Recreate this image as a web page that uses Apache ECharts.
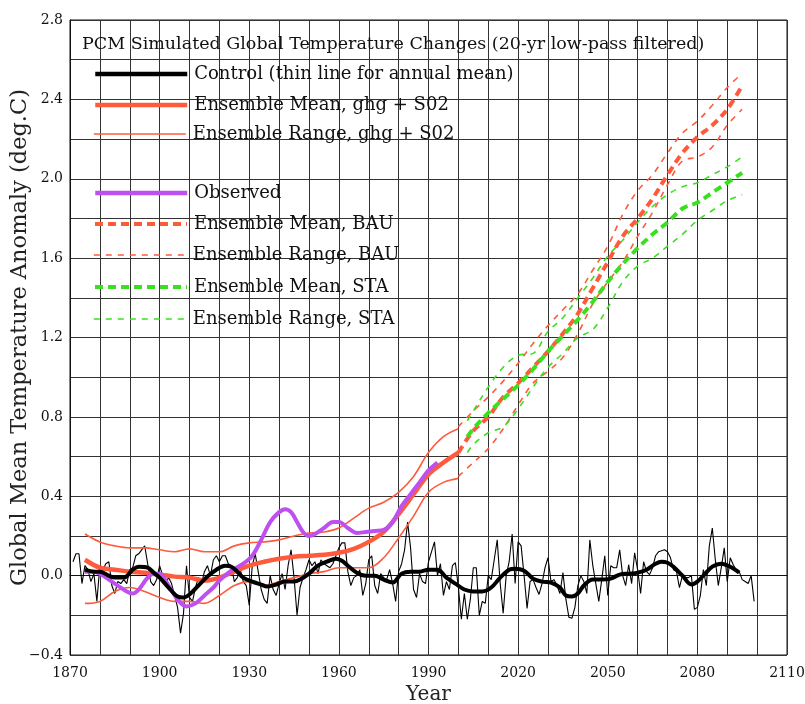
<!DOCTYPE html>
<html>
<head>
<meta charset="utf-8">
<script src="https://cdn.jsdelivr.net/npm/echarts@6/dist/echarts.min.js"></script>
<style>html,body{margin:0;padding:0;background:#fff}#c{width:805px;height:704px}</style>
</head>
<body>
<div id="c"></div>
<script>
// ---------- DATA ----------
const xTickLabels = [1870, 1900, 1930, 1960, 1990, 2020, 2050, 2080, 2110];
const yTickLabels = [-0.4, 0.0, 0.4, 0.8, 1.2, 1.6, 2.0, 2.4, 2.8];

// Control run, annual means (thin line), 1871..2099
const controlAnnualStart = 1871;
const controlAnnual = [
  0.07, 0.11, 0.11, -0.04, 0.05, 0.03, -0.03, 0.01, -0.13, 0.05,
  0.03, 0.06, 0.07, -0.05, -0.09, -0.03, -0.04, -0.02, -0.04, 0.03,
  0.04, 0.10, 0.11, 0.13, 0.15, 0.06, -0.03, -0.05, -0.02, 0.05,
  0.00, -0.04, -0.01, -0.04, -0.10, -0.16, -0.29, -0.19, 0.05, -0.11,
  -0.13, -0.06, -0.01, -0.04, 0.02, 0.05, 0.00, 0.08, 0.10, 0.07,
  0.10, 0.10, 0.06, 0.05, -0.03, -0.01, 0.03, -0.03, -0.05, -0.15,
  0.05, 0.11, 0.02, -0.07, -0.12, -0.14, 0.00, -0.07, -0.10, -0.04,
  0.01, -0.07, 0.05, 0.13, -0.01, -0.20, -0.06, -0.01, 0.03, 0.08,
  0.05, 0.07, 0.01, 0.08, 0.06, 0.05, 0.04, 0.06, 0.10, 0.14,
  0.165, 0.165, 0.02, -0.05, -0.01, 0.00, 0.03, -0.10, -0.04, 0.08,
  0.10, -0.05, -0.09, 0.01, -0.01, -0.02, 0.03, -0.04, -0.13, 0.02,
  0.06, 0.13, 0.27, 0.14, -0.07, -0.11, 0.01, -0.03, -0.04, 0.07,
  0.12, 0.17, 0.00, 0.06, -0.10, -0.03, -0.07, 0.05, 0.065, -0.06,
  -0.22, -0.09, -0.22, -0.12, 0.04, 0.04, -0.20, -0.13, -0.14, 0.00,
  -0.02, 0.08, 0.18, -0.04, -0.19, 0.00, 0.07, 0.21, -0.04, 0.17,
  0.15, 0.00, -0.165, -0.03, -0.02, -0.06, -0.095, -0.04, 0.04, 0.09,
  -0.03, -0.02, -0.05, -0.09, 0.015, -0.12, -0.21, -0.215, -0.16, -0.05,
  0.00, -0.03, -0.09, 0.18, 0.05, -0.04, -0.13, -0.02, 0.10, -0.10,
  0.05, 0.04, 0.04, 0.13, 0.00, -0.05, 0.055, -0.04, 0.115, 0.03,
  -0.09, 0.07, 0.02, 0.005, 0.04, 0.10, 0.12, 0.125, 0.13, 0.12,
  0.09, 0.03, 0.02, -0.06, 0.00, -0.01, -0.01, 0.00, -0.17, -0.16,
  -0.10, 0.03, -0.05, 0.15, 0.24, 0.08, -0.05, 0.04, 0.14, -0.03,
  0.09, 0.055, 0.03, 0.02, -0.02, -0.03, -0.04, 0.00, -0.13
];

// Control run, 20-yr low-pass filtered (thick line)
const controlYears = [1875,1878,1880,1883,1885,1888,1891,1893,1896,1898,1900,1903,1906,1908,1910,1913,1916,1919,1922,1924,1926,1928,1931,1934,1936,1939,1942,1945,1947,1950,1953,1956,1959,1961,1963,1966,1969,1972,1975,1978,1981,1984,1987,1990,1993,1996,1999,2002,2005,2008,2011,2014,2017,2019,2022,2025,2028,2031,2034,2036,2038,2040,2042,2045,2048,2051,2054,2057,2060,2063,2066,2068,2070,2072,2075,2078,2080,2082,2085,2088,2091,2094];
const controlSmooth = [0.03,0.02,0.02,0.00,-0.01,-0.01,0.03,0.045,0.04,0.015,-0.01,-0.06,-0.105,-0.11,-0.095,-0.05,-0.005,0.03,0.05,0.045,0.02,-0.01,-0.03,-0.045,-0.055,-0.045,-0.03,-0.03,-0.02,0.01,0.05,0.07,0.085,0.075,0.05,0.015,0.00,0.00,-0.02,-0.035,0.01,0.02,0.02,0.03,0.03,-0.01,-0.04,-0.07,-0.08,-0.08,-0.06,-0.01,0.03,0.035,0.025,-0.015,-0.03,-0.035,-0.06,-0.10,-0.105,-0.09,-0.05,-0.02,-0.02,-0.015,0.005,0.01,0.015,0.03,0.06,0.07,0.065,0.045,0.00,-0.045,-0.03,0.00,0.045,0.06,0.045,0.015];

// Ensemble, ghg + SO2 (historical)
const ghgYears = [1875,1880,1885,1890,1895,1900,1905,1910,1915,1920,1925,1930,1935,1940,1945,1950,1955,1960,1965,1970,1975,1980,1985,1990,1995,2000];
const ghgMean  = [0.08,0.04,0.03,0.02,0.015,0.005,-0.005,-0.01,-0.025,-0.01,0.02,0.05,0.07,0.085,0.095,0.10,0.105,0.115,0.135,0.17,0.22,0.31,0.41,0.51,0.57,0.62];
const ghgUpper = [0.21,0.17,0.15,0.14,0.14,0.13,0.12,0.135,0.12,0.12,0.15,0.165,0.17,0.18,0.20,0.215,0.22,0.24,0.29,0.34,0.37,0.42,0.50,0.62,0.70,0.74];
const ghgLower = [-0.14,-0.13,-0.08,-0.06,-0.08,-0.11,-0.13,-0.13,-0.14,-0.10,-0.05,-0.03,-0.05,-0.03,-0.01,0.01,0.02,0.04,0.04,0.04,0.09,0.19,0.30,0.42,0.47,0.49];

// Observed
const obsYears = [1875,1878,1880,1883,1886,1889,1891,1893,1896,1898,1900,1903,1906,1909,1912,1915,1918,1920,1924,1928,1931,1934,1937,1940,1942,1944,1946,1948,1950,1952,1955,1958,1960,1963,1966,1969,1972,1975,1978,1981,1984,1987,1990,1993];
const observed = [0.02,0.02,0.01,-0.02,-0.05,-0.08,-0.09,-0.07,-0.01,0.01,0.01,-0.05,-0.12,-0.155,-0.14,-0.10,-0.06,-0.025,0.025,0.06,0.10,0.18,0.27,0.32,0.335,0.32,0.27,0.22,0.20,0.21,0.24,0.27,0.27,0.24,0.215,0.22,0.225,0.23,0.27,0.35,0.41,0.47,0.53,0.57];

// Business as usual (BAU)
const bauYears = [2000,2005,2010,2015,2020,2025,2030,2035,2040,2045,2050,2055,2060,2065,2070,2075,2080,2085,2090,2095];
const bauMean  = [0.62,0.73,0.80,0.90,0.97,1.05,1.13,1.22,1.32,1.45,1.58,1.71,1.80,1.90,2.02,2.13,2.21,2.27,2.35,2.47];
const bauUpper = [0.75,0.83,0.90,0.98,1.07,1.17,1.26,1.34,1.42,1.54,1.66,1.82,1.94,2.02,2.13,2.23,2.29,2.37,2.46,2.53];
const bauLower = [0.50,0.57,0.64,0.74,0.86,0.97,1.03,1.10,1.22,1.37,1.48,1.58,1.71,1.83,1.97,2.09,2.11,2.16,2.27,2.35];

// Stabilization (STA)
const staYears = [2003,2005,2010,2015,2020,2025,2030,2035,2040,2045,2050,2055,2060,2065,2070,2075,2080,2085,2090,2095];
const staMean  = [0.70,0.74,0.82,0.89,0.96,1.04,1.13,1.21,1.29,1.38,1.48,1.57,1.65,1.72,1.78,1.85,1.88,1.93,1.98,2.03];
const staUpper = [0.78,0.83,0.95,1.05,1.11,1.12,1.23,1.30,1.40,1.50,1.61,1.69,1.78,1.86,1.92,1.96,1.98,2.02,2.06,2.11];
const staLower = [0.62,0.66,0.72,0.75,0.84,0.95,1.05,1.12,1.20,1.24,1.35,1.48,1.56,1.60,1.66,1.72,1.79,1.84,1.89,1.92];

const names = {
  control: 'Control (thin line for annual mean)',
  ghgMean: 'Ensemble Mean, ghg + S02',
  ghgRange: 'Ensemble Range, ghg + S02',
  obs: 'Observed',
  bauMean: 'Ensemble Mean, BAU',
  bauRange: 'Ensemble Range, BAU',
  staMean: 'Ensemble Mean, STA',
  staRange: 'Ensemble Range, STA'
};

// ---------- CHART ----------
const RED = '#ff5a3c', GREEN = '#3ae020', PURPLE = '#bf50f0', BLACK = '#000';
const FONT = 'DejaVu Serif';
const zip = (xs, ys) => xs.map((x, i) => [x, ys[i]]);
const annualPairs = controlAnnual.map((v, i) => [controlAnnualStart + i, v]);

const STYLE = {
  thick: { width: 4.5, type: 'solid' },
  thin: { width: 1.6, type: 'solid' },
  meanDash: { width: 4, type: [8, 5] },
  rangeDash: { width: 1.6, type: [6, 6] }
};

function line(name, data, color, st, smooth, z) {
  return {
    type: 'line', name, data, smooth: smooth ? 0.35 : false, showSymbol: false, symbol: 'none',
    lineStyle: { color, width: st.width, type: st.type, cap: 'butt' }, itemStyle: { color },
    z: z || 2, silent: true, animation: false
  };
}

function leg(name, cy, color, st) {
  return {
    data: [name], left: 93, top: cy - 10, padding: 0, itemGap: 0,
    itemWidth: 92, itemHeight: 20, selectedMode: false,
    itemStyle: { opacity: 0 },
    lineStyle: { color, width: st.width, type: st.type, cap: 'butt' },
    textStyle: { fontFamily: FONT, fontSize: 18, color: '#111', padding: [0, 0, 0, 2] }
  };
}

const chart = echarts.init(document.getElementById('c'), null, { renderer: 'canvas' });
chart.setOption({
  backgroundColor: '#fff',
  animation: false,
  title: {
    text: 'PCM Simulated Global Temperature Changes (20-yr low-pass filtered)',
    left: 82, top: 35, padding: 0,
    textStyle: { fontFamily: FONT, fontSize: 17.5, fontWeight: 'normal', color: '#111' }
  },
  legend: [
    leg(names.control, 75, BLACK, STYLE.thick),
    leg(names.ghgMean, 106, RED, STYLE.thick),
    leg(names.ghgRange, 135, RED, STYLE.thin),
    leg(names.obs, 194, PURPLE, STYLE.thick),
    leg(names.bauMean, 225, RED, STYLE.meanDash),
    leg(names.bauRange, 256, RED, STYLE.rangeDash),
    leg(names.staMean, 288, GREEN, STYLE.meanDash),
    leg(names.staRange, 320, GREEN, STYLE.rangeDash)
  ],
  grid: { left: 70, right: 18, top: 20, bottom: 49, show: true, borderColor: '#111', borderWidth: 1,
          containLabel: false, outerBoundsMode: 'none' },
  xAxis: {
    type: 'value', min: 1870, max: 2110, interval: 10,
    axisLine: { show: true, lineStyle: { color: '#111' } },
    axisTick: { show: false },
    splitLine: { show: true, lineStyle: { color: '#333', width: 1 } },
    axisLabel: {
      margin: 11, fontFamily: FONT, fontSize: 14, color: '#111',
      formatter: v => xTickLabels.includes(Math.round(v)) ? String(Math.round(v)) : ''
    },
    name: 'Year', nameLocation: 'middle', nameGap: 29,
    nameTextStyle: { fontFamily: FONT, fontSize: 20, color: '#222' }
  },
  yAxis: {
    type: 'value', min: -0.4, max: 2.8, interval: 0.2,
    axisLine: { show: true, lineStyle: { color: '#111' } },
    axisTick: { show: false },
    splitLine: { show: true, lineStyle: { color: '#333', width: 1 } },
    axisLabel: {
      margin: 7, fontFamily: FONT, fontSize: 14, color: '#111',
      formatter: v => {
        const hit = yTickLabels.find(t => Math.abs(t - v) < 1e-6);
        if (hit === undefined) return '';
        return hit < 0 ? '\u2212' + Math.abs(hit).toFixed(1) : hit.toFixed(1);
      }
    },
    name: 'Global Mean Temperature Anomaly (deg.C)', nameLocation: 'middle', nameGap: 38,
    nameMoveOverlap: false,
    nameTextStyle: { fontFamily: FONT, fontSize: 22.5, color: '#222' }
  },
  series: [
    line('Control annual', annualPairs, BLACK, { width: 1.1, type: 'solid' }, false, 2),
    line(names.ghgRange, zip(ghgYears, ghgUpper), RED, STYLE.thin, true, 3),
    line(names.ghgRange, zip(ghgYears, ghgLower), RED, STYLE.thin, true, 3),
    line(names.ghgMean, zip(ghgYears, ghgMean), RED, STYLE.thick, true, 4),
    line(names.obs, zip(obsYears, observed), PURPLE, { width: 4, type: 'solid' }, true, 5),
    line(names.control, zip(controlYears, controlSmooth), BLACK, { width: 4, type: 'solid' }, true, 6),
    line(names.bauRange, zip(bauYears, bauUpper), RED, STYLE.rangeDash, true, 3),
    line(names.bauRange, zip(bauYears, bauLower), RED, STYLE.rangeDash, true, 3),
    line(names.staRange, zip(staYears, staUpper), GREEN, STYLE.rangeDash, true, 3),
    line(names.staRange, zip(staYears, staLower), GREEN, STYLE.rangeDash, true, 3),
    line(names.bauMean, zip(bauYears, bauMean), RED, STYLE.meanDash, true, 4),
    line(names.staMean, zip(staYears, staMean), GREEN, STYLE.meanDash, true, 4)
  ]
});
</script>
</body>
</html>
